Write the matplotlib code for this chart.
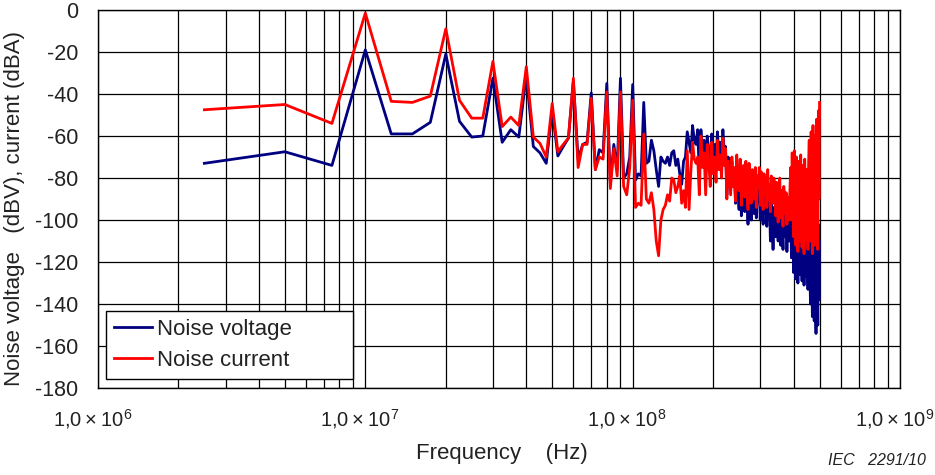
import matplotlib

matplotlib.use("Agg")
import matplotlib.pyplot as plt
import numpy as np
from matplotlib.ticker import FixedLocator, LogLocator, NullFormatter
from matplotlib.transforms import ScaledTranslation

plt.rcParams["font.family"] = ["Liberation Sans", "DejaVu Sans"]
plt.rcParams["mathtext.fontset"] = "custom"
plt.rcParams["mathtext.rm"] = "Liberation Sans"
plt.rcParams["axes.unicode_minus"] = False

# sweep: 200 points, 2.5 MHz step
step_hz = 2.5e6
freq_hz = np.arange(1, 201) * step_hz

voltage_dbv = [
    -73, -67.5, -74, -19, -59, -59, -53.5, -21, -53, -60.5,
    -60, -32.5, -63, -57, -60.5, -31, -65, -68, -73, -47.5,
    -69.5, -65, -61, -34, -71, -64, -63, -39.5, -76, -66.5,
    -68, -35, -82.5, -64, -76, -32.5, -80, -78, -70, -35.5,
    -81, -78, -79, -44, -73, -72, -62, -67, -76, -84,
    -70, -72, -73, -70, -74, -68, -67, -74, -71, -78,
    -83, -72, -70, -58, -63, -68, -55, -62, -64, -57,
    -78, -57, -68, -62, -76, -60, -67, -75, -59, -70,
    -64, -74, -58, -70, -63, -72, -57, -68,
    -65, -88, -70, -80, -86, -72, -84, -78, -92, -71,
    -85, -95, -74, -98, -82, -78, -96, -76, -88, -102,
    -78, -86, -100, -82, -90, -97, -80, -99, -85, -90,
    -86, -100, -85, -92, -102, -88, -97, -90, -103, -86,
    -99, -93, -110, -92, -98, -114, -94,
    -96, -108, -92, -100, -110, -97, -92, -112, -98, -104,
    -114, -97, -101, -108, -99, -115, -100, -106, -110, -98,
    -92, -118, -86, -105, -125, -84, -100, -128, -88, -110,
    -130, -90, -104, -126, -87, -114, -129, -93, -106, -131,
    -90, -112, -127, -96, -118, -133, -95,
    -100, -125, -140, -96, -118, -146, -92, -130, -148, -105,
    -135, -154, -98, -128, -150, -102, -138, -110,
]

current_dba = [
    -47.5, -45, -54, -1.5, -43.5, -44, -41, -9, -43, -51.5,
    -51.5, -24.5, -55.5, -51, -55, -27, -60.5, -63.5, -70, -44.5,
    -67.5, -64, -61, -32.5, -75, -64, -64, -42, -76, -70,
    -71, -39, -85, -66, -79, -39, -84, -88, -75, -43,
    -94, -92, -93, -59, -90, -92, -87, -95, -110, -117,
    -100, -95, -93, -88, -91, -80, -81, -87, -84, -79,
    -92, -86, -94, -67, -95, -77, -63, -71, -73, -70,
    -88, -60, -75, -68, -88, -64, -72, -84, -63, -78,
    -70, -82, -62, -76, -69, -80, -61, -74,
    -66, -90, -72, -80, -88, -70, -84, -75, -91, -69,
    -82, -86, -71, -93, -78, -74, -89, -72, -85, -95,
    -73, -80, -92, -76, -84, -90, -75, -94, -79, -83,
    -75, -93, -77, -84, -95, -78, -88, -80, -94, -76,
    -90, -83, -96, -79, -87, -92, -80,
    -85, -98, -82, -90, -101, -88, -80, -99, -86, -93,
    -103, -84, -91, -97, -87, -102, -89, -94, -100, -85,
    -75, -100, -68, -88, -108, -67, -79, -112, -70, -92,
    -115, -72, -84, -110, -69, -95, -113, -74, -86, -116,
    -71, -90, -109, -76, -98, -114, -73,
    -62, -90, -110, -58, -80, -116, -55, -95, -112, -60,
    -85, -108, -52, -98, -114, -48, -90, -44,
]

x_major = [1e6, 1e7, 1e8, 1e9]
x_labels = [r"$\mathregular{1{,}0\times10^{%d}}$" % k for k in (6, 7, 8, 9)]
y_ticks = list(range(-180, 1, 20))

INK = "#222222"

fig = plt.figure(figsize=(9.35, 4.75), dpi=100)
ax = fig.add_axes([0.1048, 0.183, 0.8578, 0.796])

ax.plot(freq_hz, voltage_dbv, color="#000080", lw=2.0, label="Noise voltage", zorder=3)
ax.plot(freq_hz, current_dba, color="#FF0000", lw=2.0, label="Noise current", zorder=4)

ax.set_xscale("log")
ax.set_xlim(1e6, 1e9)
ax.set_ylim(-180, 0)
ax.xaxis.set_major_locator(FixedLocator(x_major))
ax.set_xticklabels(x_labels)
ax.xaxis.set_minor_locator(LogLocator(base=10, subs=np.arange(2, 10)))
ax.xaxis.set_minor_formatter(NullFormatter())
ax.set_yticks(y_ticks)

ax.grid(which="both", axis="x", color="black", lw=0.9)
ax.grid(which="major", axis="y", color="black", lw=0.9)
ax.set_axisbelow(True)
ax.tick_params(which="both", length=0, colors=INK)
ax.tick_params(axis="x", pad=14, labelsize=14.5)
ax.tick_params(axis="y", pad=14, labelsize=15.5)
shift = ScaledTranslation(-4 / 72, 0, fig.dpi_scale_trans)
for lbl in ax.get_xticklabels():
    lbl.set_transform(lbl.get_transform() + shift)
for spine in ax.spines.values():
    spine.set_color("black")
    spine.set_linewidth(1.0)

ax.set_xlabel("Frequency    (Hz)", fontsize=16, color=INK)
ax.xaxis.set_label_coords(0.504, -0.146)
ax.set_ylabel("Noise voltage   (dBV), current (dBA)", fontsize=16, color=INK)
ax.yaxis.set_label_coords(-0.091, 0.476)

leg = ax.legend(
    loc="lower left",
    bbox_to_anchor=(0.01, 0.025, 0.308, 0.17),
    mode="expand",
    borderaxespad=0,
    fontsize=16,
    handlelength=1.7,
    handletextpad=0.25,
    labelspacing=0.45,
    borderpad=0.35,
    fancybox=False,
    framealpha=1,
    edgecolor="black",
)
leg.get_frame().set_linewidth(1.0)
for text in leg.get_texts():
    text.set_color(INK)

fig.text(0.99, 0.015, "IEC   2291/10", ha="right", va="bottom",
         style="italic", fontsize=11.5, color=INK)

fig.savefig("out.png", dpi=100)
